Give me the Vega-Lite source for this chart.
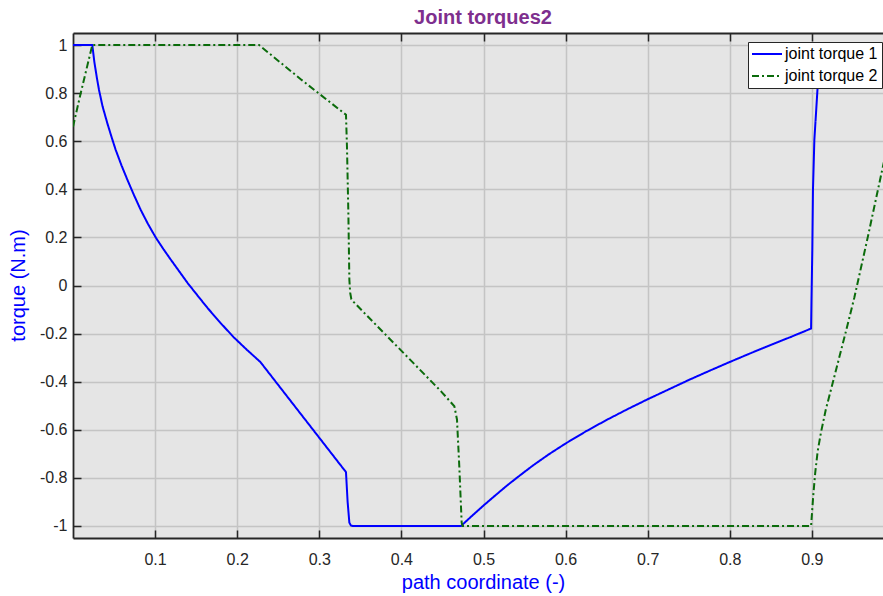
{
  "$schema": "https://vega.github.io/schema/vega-lite/v6.json",
  "width": 810,
  "height": 505,
  "autosize": {"type": "none"},
  "padding": {"left": 73, "top": 33, "right": 0, "bottom": 58},
  "background": "white",
  "title": {"text": "Joint torques2", "fontSize": 20, "font": "Liberation Sans", "fontWeight": "bold", "color": "#7E2F8E", "anchor": "middle", "dx": 5, "dy": 21, "offset": 9, "baseline": "alphabetic"},
  "config": {"view": {"stroke": null, "fill": "#e5e5e5"}, "font": "Liberation Sans"},
  "data": {"values": [
    {"x": 0, "y": 1, "series": "joint torque 1"},
    {"x": 0.0235, "y": 1, "series": "joint torque 1"},
    {"x": 0.026, "y": 0.93, "series": "joint torque 1"},
    {"x": 0.029, "y": 0.865, "series": "joint torque 1"},
    {"x": 0.0317, "y": 0.813, "series": "joint torque 1"},
    {"x": 0.036, "y": 0.745, "series": "joint torque 1"},
    {"x": 0.0418, "y": 0.675, "series": "joint torque 1"},
    {"x": 0.047, "y": 0.617, "series": "joint torque 1"},
    {"x": 0.052, "y": 0.564, "series": "joint torque 1"},
    {"x": 0.059, "y": 0.5, "series": "joint torque 1"},
    {"x": 0.0662, "y": 0.44, "series": "joint torque 1"},
    {"x": 0.074, "y": 0.378, "series": "joint torque 1"},
    {"x": 0.0824, "y": 0.315, "series": "joint torque 1"},
    {"x": 0.091, "y": 0.258, "series": "joint torque 1"},
    {"x": 0.1007, "y": 0.2, "series": "joint torque 1"},
    {"x": 0.11, "y": 0.152, "series": "joint torque 1"},
    {"x": 0.119, "y": 0.108, "series": "joint torque 1"},
    {"x": 0.1397, "y": 0.01, "series": "joint torque 1"},
    {"x": 0.152, "y": -0.043, "series": "joint torque 1"},
    {"x": 0.164, "y": -0.094, "series": "joint torque 1"},
    {"x": 0.18, "y": -0.157, "series": "joint torque 1"},
    {"x": 0.196, "y": -0.216, "series": "joint torque 1"},
    {"x": 0.212, "y": -0.268, "series": "joint torque 1"},
    {"x": 0.2282, "y": -0.318, "series": "joint torque 1"},
    {"x": 0.3325, "y": -0.776, "series": "joint torque 1"},
    {"x": 0.3345, "y": -0.9, "series": "joint torque 1"},
    {"x": 0.3366, "y": -0.986, "series": "joint torque 1"},
    {"x": 0.3385, "y": -0.998, "series": "joint torque 1"},
    {"x": 0.3407, "y": -1, "series": "joint torque 1"},
    {"x": 0.4726, "y": -1, "series": "joint torque 1"},
    {"x": 0.485, "y": -0.961, "series": "joint torque 1"},
    {"x": 0.5, "y": -0.915, "series": "joint torque 1"},
    {"x": 0.515, "y": -0.871, "series": "joint torque 1"},
    {"x": 0.53, "y": -0.828, "series": "joint torque 1"},
    {"x": 0.545, "y": -0.788, "series": "joint torque 1"},
    {"x": 0.56, "y": -0.749, "series": "joint torque 1"},
    {"x": 0.58, "y": -0.701, "series": "joint torque 1"},
    {"x": 0.6, "y": -0.657, "series": "joint torque 1"},
    {"x": 0.625, "y": -0.606, "series": "joint torque 1"},
    {"x": 0.65, "y": -0.559, "series": "joint torque 1"},
    {"x": 0.675, "y": -0.515, "series": "joint torque 1"},
    {"x": 0.7, "y": -0.473, "series": "joint torque 1"},
    {"x": 0.725, "y": -0.433, "series": "joint torque 1"},
    {"x": 0.75, "y": -0.393, "series": "joint torque 1"},
    {"x": 0.775, "y": -0.355, "series": "joint torque 1"},
    {"x": 0.8, "y": -0.318, "series": "joint torque 1"},
    {"x": 0.825, "y": -0.282, "series": "joint torque 1"},
    {"x": 0.85, "y": -0.247, "series": "joint torque 1"},
    {"x": 0.875, "y": -0.213, "series": "joint torque 1"},
    {"x": 0.899, "y": -0.179, "series": "joint torque 1"},
    {"x": 0.8995, "y": -0.058, "series": "joint torque 1"},
    {"x": 0.9005, "y": 0.149, "series": "joint torque 1"},
    {"x": 0.9013, "y": 0.398, "series": "joint torque 1"},
    {"x": 0.903, "y": 0.606, "series": "joint torque 1"},
    {"x": 0.907, "y": 0.827, "series": "joint torque 1"},
    {"x": 0.91, "y": 1, "series": "joint torque 1"},
    {"x": 0.99, "y": 1, "series": "joint torque 1"},
    {"x": 0, "y": 0.66, "series": "joint torque 2"},
    {"x": 0.0094, "y": 0.8, "series": "joint torque 2"},
    {"x": 0.0235, "y": 1, "series": "joint torque 2"},
    {"x": 0.2266, "y": 1, "series": "joint torque 2"},
    {"x": 0.2777, "y": 0.857, "series": "joint torque 2"},
    {"x": 0.3325, "y": 0.71, "series": "joint torque 2"},
    {"x": 0.3337, "y": 0.578, "series": "joint torque 2"},
    {"x": 0.3354, "y": 0.3, "series": "joint torque 2"},
    {"x": 0.3366, "y": 0.025, "series": "joint torque 2"},
    {"x": 0.3376, "y": -0.03, "series": "joint torque 2"},
    {"x": 0.339, "y": -0.056, "series": "joint torque 2"},
    {"x": 0.342, "y": -0.069, "series": "joint torque 2"},
    {"x": 0.3508, "y": -0.1, "series": "joint torque 2"},
    {"x": 0.448, "y": -0.439, "series": "joint torque 2"},
    {"x": 0.4645, "y": -0.502, "series": "joint torque 2"},
    {"x": 0.4677, "y": -0.557, "series": "joint torque 2"},
    {"x": 0.4705, "y": -0.751, "series": "joint torque 2"},
    {"x": 0.4734, "y": -0.986, "series": "joint torque 2"},
    {"x": 0.4746, "y": -1, "series": "joint torque 2"},
    {"x": 0.899, "y": -1, "series": "joint torque 2"},
    {"x": 0.9015, "y": -0.88, "series": "joint torque 2"},
    {"x": 0.904, "y": -0.78, "series": "joint torque 2"},
    {"x": 0.907, "y": -0.69, "series": "joint torque 2"},
    {"x": 0.911, "y": -0.612, "series": "joint torque 2"},
    {"x": 0.917, "y": -0.515, "series": "joint torque 2"},
    {"x": 0.925, "y": -0.41, "series": "joint torque 2"},
    {"x": 0.9415, "y": -0.19, "series": "joint torque 2"},
    {"x": 0.9517, "y": -0.05, "series": "joint torque 2"},
    {"x": 0.968, "y": 0.2, "series": "joint torque 2"},
    {"x": 0.984, "y": 0.455, "series": "joint torque 2"},
    {"x": 0.99, "y": 0.55, "series": "joint torque 2"}
  ]},
  "layer": [
    {
      "mark": {"type": "line", "clip": true, "strokeWidth": 2},
      "encoding": {
        "x": {"field": "x", "type": "quantitative",
          "scale": {"domain": [0, 0.9866], "nice": false, "zero": false},
          "axis": {"orient": "bottom", "values": [0.1, 0.2, 0.3, 0.4, 0.5, 0.6, 0.7, 0.8, 0.9],
            "labelExpr": "'' + datum.value", "tickSize": -8, "tickWidth": 1.5, "tickColor": "#262626",
            "domainColor": "#262626", "domainWidth": 1.8, "labelFontSize": 16, "labelColor": "#262626",
            "labelPadding": 21, "labelFlush": false, "labelOverlap": false, "labelFont": "Liberation Sans",
            "grid": true, "gridColor": "#c4c4c4", "gridWidth": 1.5,
            "title": "path coordinate (-)", "titleColor": "#0000ff", "titleFontSize": 20, "titleFontWeight": "normal",
            "titleFont": "Liberation Sans", "titleX": 410, "titleY": 50, "titleAlign": "center", "titleBaseline": "alphabetic"}},
        "y": {"field": "y", "type": "quantitative",
          "scale": {"domain": [-1.05, 1.05], "nice": false, "zero": false},
          "axis": {"values": [-1, -0.8, -0.6, -0.4, -0.2, 0, 0.2, 0.4, 0.6, 0.8, 1],
            "labelExpr": "'' + datum.value", "tickSize": -8, "tickWidth": 1.5, "tickColor": "#262626",
            "domainColor": "#262626", "domainWidth": 1.8, "labelFontSize": 16, "labelColor": "#262626",
            "labelPadding": 14, "labelFlush": false, "labelOverlap": false, "labelFont": "Liberation Sans",
            "grid": true, "gridColor": "#c4c4c4", "gridWidth": 1.5,
            "title": "torque (N.m)", "titleColor": "#0000ff", "titleFontSize": 20, "titleFontWeight": "normal",
            "titleFont": "Liberation Sans", "titleX": -55, "titleY": 252, "titleAngle": 270, "titleAlign": "center", "titleBaseline": "middle"}},
        "color": {"field": "series", "type": "nominal",
          "scale": {"domain": ["joint torque 1", "joint torque 2"], "range": ["#0000ff", "#0b6b0b"]},
          "legend": {"title": null, "orient": "none", "legendX": 675, "legendY": 9, "symbolType": "M-1.6,0H4.4", "symbolSize": 100,
            "symbolStrokeWidth": 2, "labelFontSize": 16, "labelFont": "Liberation Sans", "labelColor": "#000000",
            "fillColor": "white", "strokeColor": "#262626", "padding": 4, "labelOffset": 17, "rowPadding": 6}},
        "strokeDash": {"field": "series", "type": "nominal",
          "scale": {"domain": ["joint torque 1", "joint torque 2"], "range": [[1, 0], [7, 3, 2, 3]]},
          "legend": {"title": null, "orient": "none", "legendX": 675, "legendY": 9, "symbolType": "M-1.6,0H4.4", "symbolSize": 100,
            "symbolStrokeWidth": 2, "labelFontSize": 16, "labelFont": "Liberation Sans", "labelColor": "#000000",
            "fillColor": "white", "strokeColor": "#262626", "padding": 4, "labelOffset": 17, "rowPadding": 6}}
      }
    },
    {
      "mark": {"type": "rule", "opacity": 0, "clip": true},
      "encoding": {
        "x": {"field": "x", "type": "quantitative",
          "axis": {"orient": "top", "values": [0.1, 0.2, 0.3, 0.4, 0.5, 0.6, 0.7, 0.8, 0.9], "labels": false, "grid": false,
            "tickSize": -8, "tickWidth": 1.5, "tickColor": "#262626", "domainColor": "#262626", "domainWidth": 1.8, "title": null}}
      }
    }
  ],
  "resolve": {"axis": {"x": "independent"}}
}
